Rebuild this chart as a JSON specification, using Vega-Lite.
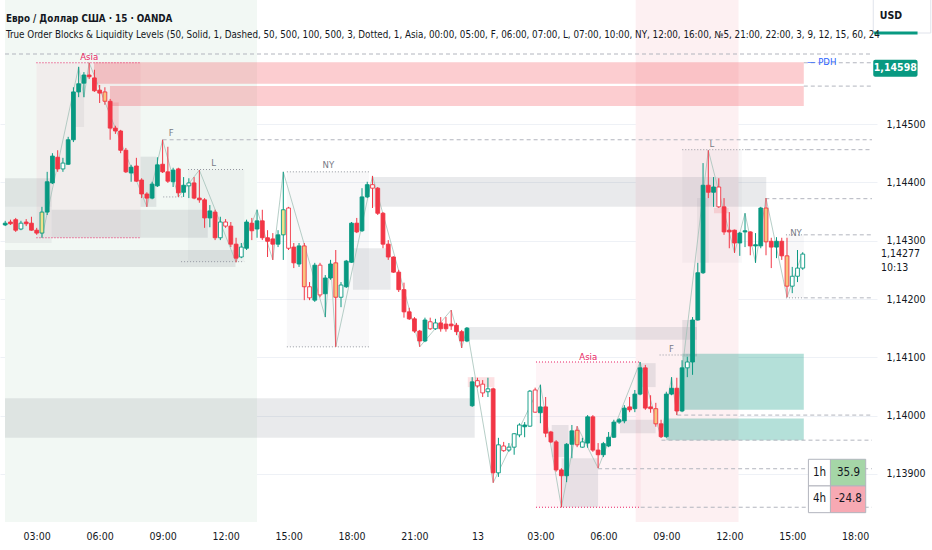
{
"$schema": "https://vega.github.io/schema/vega-lite/v6.json",
"width": 877,
"height": 522,
"autosize": {"type": "none"},
"padding": {"left": 0, "top": 0, "right": 55, "bottom": 28},
"background": "#ffffff",
"config": {
  "view": {"stroke": null},
  "text": {"font": "Liberation Sans Narrow, DejaVu Sans Condensed, sans-serif"}
},
"title": {
  "text": "Евро / Доллар США · 15 · OANDA",
  "subtitle": "True Order Blocks & Liquidity Levels (50, Solid, 1, Dashed, 50, 500, 100, 500, 3, Dotted, 1, Asia, 00:00, 05:00, F, 06:00, 07:00, L, 07:00, 10:00, NY, 12:00, 16:00, №5, 21:00, 22:00, 3, 9, 12, 15, 60, 24",
  "anchor": "start",
  "frame": "group",
  "orient": "top",
  "offset": -56,
  "dx": 6,
  "font": "Liberation Sans Narrow, DejaVu Sans Condensed, sans-serif",
  "fontSize": 9.8,
  "fontWeight": 600,
  "color": "#131722",
  "subtitleFont": "Liberation Sans Narrow, DejaVu Sans Condensed, sans-serif",
  "subtitleFontSize": 9.75,
  "subtitleColor": "#131722",
  "subtitlePadding": 6
},
"datasets": {
  "bg": [
    {"t": 1.49, "t2": 13.5, "k": "g"},
    {"t": 31.54, "t2": 36.44, "k": "p"}
  ],
  "zones": [
    {"t": 2.99, "t2": 7.95, "p": 1.14605, "p2": 1.14305, "k": "asia"},
    {"t": 26.79, "t2": 31.78, "p": 1.14092, "p2": 1.13843, "k": "asia"},
    {"t": 14.92, "t2": 18.83, "p": 1.14418, "p2": 1.14118, "k": "ny"},
    {"t": 10.21, "t2": 12.89, "p": 1.14422, "p2": 1.14264, "k": "ny"},
    {"t": 33.76, "t2": 36.6, "p": 1.14456, "p2": 1.14262, "k": "ny"},
    {"t": 38.7, "t2": 39.55, "p": 1.1431, "p2": 1.14202, "k": "ny"},
    {"t": 1.49, "t2": 3.71, "p": 1.14407, "p2": 1.14358, "k": "grey"},
    {"t": 1.49, "t2": 3.71, "p": 1.14358, "p2": 1.14296, "k": "grey2"},
    {"t": 3.71, "t2": 11.15, "p": 1.14353, "p2": 1.14305, "k": "grey"},
    {"t": 1.49, "t2": 12.47, "p": 1.14284, "p2": 1.14255, "k": "grey"},
    {"t": 19.02, "t2": 37.76, "p": 1.14409, "p2": 1.14358, "k": "grey"},
    {"t": 18.07, "t2": 19.86, "p": 1.14287, "p2": 1.14216, "k": "grey"},
    {"t": 23.44, "t2": 34.46, "p": 1.14152, "p2": 1.1413, "k": "grey"},
    {"t": 1.49, "t2": 23.87, "p": 1.1403, "p2": 1.13962, "k": "grey"},
    {"t": 27.54, "t2": 28.34, "p": 1.13984, "p2": 1.13929, "k": "grey"},
    {"t": 28.01, "t2": 29.75, "p": 1.13927, "p2": 1.13843, "k": "grey"},
    {"t": 30.79, "t2": 32.49, "p": 1.13993, "p2": 1.1397, "k": "grey"},
    {"t": 31.78, "t2": 32.49, "p": 1.1409, "p2": 1.14049, "k": "grey"},
    {"t": 33.76, "t2": 34.46, "p": 1.14164, "p2": 1.14101, "k": "grey"},
    {"t": 34.46, "t2": 35.02, "p": 1.14373, "p2": 1.14262, "k": "grey2"},
    {"t": 7.95, "t2": 8.7, "p": 1.14444, "p2": 1.14358, "k": "grey"},
    {"t": 4.7, "t2": 5.26, "p": 1.14555, "p2": 1.14495, "k": "grey2"},
    {"t": 33.76, "t2": 39.55, "p": 1.14106, "p2": 1.1401, "k": "teal"},
    {"t": 33.0, "t2": 39.55, "p": 1.13995, "p2": 1.13958, "k": "teal"},
    {"t": 5.73, "t2": 39.55, "p": 1.14606, "p2": 1.14569, "k": "pink"},
    {"t": 6.49, "t2": 39.55, "p": 1.14565, "p2": 1.14531, "k": "pink"},
    {"t": 23.54, "t2": 24.81, "p": 1.14066, "p2": 1.14049, "k": "pink2"},
    {"t": 6.53, "t2": 6.91, "p": 1.14537, "p2": 1.1449, "k": "pink2"},
    {"t": 35.27, "t2": 35.97, "p": 1.14356, "p2": 1.14347, "k": "pink2"}
  ],
  "levels": [
    {"t": 1.49, "t2": 42.8, "p": 1.1462, "k": "dash"},
    {"t": 39.55, "t2": 42.8, "p": 1.14605, "k": "dash"},
    {"t": 39.55, "t2": 42.8, "p": 1.14565, "k": "dash"},
    {"t": 9.0, "t2": 42.8, "p": 1.14473, "k": "dash"},
    {"t": 33.76, "t2": 36.82, "p": 1.14456, "k": "dot"},
    {"t": 36.82, "t2": 42.8, "p": 1.14456, "k": "dash"},
    {"t": 37.72, "t2": 42.8, "p": 1.14372, "k": "dash"},
    {"t": 38.7, "t2": 39.55, "p": 1.1431, "k": "dot"},
    {"t": 39.55, "t2": 42.8, "p": 1.1431, "k": "dash"},
    {"t": 38.7, "t2": 39.55, "p": 1.14202, "k": "dot"},
    {"t": 39.55, "t2": 42.8, "p": 1.14202, "k": "dash"},
    {"t": 33.52, "t2": 42.8, "p": 1.14001, "k": "dash"},
    {"t": 32.77, "t2": 42.8, "p": 1.13958, "k": "dash"},
    {"t": 29.75, "t2": 42.8, "p": 1.13909, "k": "dash"},
    {"t": 26.79, "t2": 31.78, "p": 1.13843, "k": "pdot"},
    {"t": 31.78, "t2": 42.8, "p": 1.13843, "k": "dash"},
    {"t": 26.79, "t2": 31.78, "p": 1.14092, "k": "pdot"},
    {"t": 10.21, "t2": 12.89, "p": 1.14422, "k": "dot"},
    {"t": 9.88, "t2": 12.89, "p": 1.14264, "k": "dot"},
    {"t": 14.92, "t2": 18.83, "p": 1.14418, "k": "dot"},
    {"t": 14.92, "t2": 18.83, "p": 1.14118, "k": "dot"},
    {"t": 2.99, "t2": 7.95, "p": 1.14605, "k": "pdot"},
    {"t": 2.99, "t2": 7.95, "p": 1.14305, "k": "pdot"},
    {"t": 32.68, "t2": 34.46, "p": 1.14104, "k": "dot"},
    {"t": 9.03, "t2": 9.97, "p": 1.14375, "k": "dot"}
  ],
  "zig": [
    {"t": 3.25, "p": 1.14305}, {"t": 5, "p": 1.14598}, {"t": 5.25, "p": 1.14546}, {"t": 5.5, "p": 1.14605},
    {"t": 8.25, "p": 1.14358}, {"t": 9, "p": 1.14473}, {"t": 9.75, "p": 1.14375}, {"t": 10.75, "p": 1.14421},
    {"t": 12.5, "p": 1.14263}, {"t": 13.5, "p": 1.14353}, {"t": 14.25, "p": 1.14267}, {"t": 14.75, "p": 1.14418},
    {"t": 16.75, "p": 1.14169}, {"t": 17, "p": 1.14267}, {"t": 17.25, "p": 1.14118}, {"t": 19, "p": 1.14411},
    {"t": 21.25, "p": 1.14118}, {"t": 22.75, "p": 1.14181}, {"t": 23.25, "p": 1.14116}, {"t": 23.5, "p": 1.1415},
    {"t": 24.75, "p": 1.13885}, {"t": 27, "p": 1.14053}, {"t": 28, "p": 1.13843}, {"t": 28.75, "p": 1.13982},
    {"t": 29.75, "p": 1.1391}, {"t": 31.75, "p": 1.14092}, {"t": 32.75, "p": 1.13962}, {"t": 33.25, "p": 1.14066},
    {"t": 33.5, "p": 1.14001}, {"t": 35, "p": 1.14455}, {"t": 36.25, "p": 1.14279}, {"t": 36.75, "p": 1.14347},
    {"t": 37.25, "p": 1.14262}, {"t": 37.75, "p": 1.14373}, {"t": 38.75, "p": 1.14203}, {"t": 39.5, "p": 1.1428}
  ],
  "candles": [
    {"t":1.5,"o":1.14327,"hi":1.14334,"lo":1.14325,"c":1.14330,"s":"g"},
    {"t":1.75,"o":1.14332,"hi":1.14336,"lo":1.14327,"c":1.14329,"s":"r"},
    {"t":2,"o":1.14336,"hi":1.14339,"lo":1.14315,"c":1.14318,"s":"r"},
    {"t":2.25,"o":1.14320,"hi":1.14334,"lo":1.14318,"c":1.14330,"s":"gh"},
    {"t":2.5,"o":1.14332,"hi":1.14337,"lo":1.14325,"c":1.14329,"s":"r"},
    {"t":2.75,"o":1.14330,"hi":1.14341,"lo":1.14317,"c":1.14318,"s":"r"},
    {"t":3,"o":1.14318,"hi":1.14322,"lo":1.14310,"c":1.14313,"s":"r"},
    {"t":3.25,"o":1.14313,"hi":1.14358,"lo":1.14305,"c":1.14349,"s":"gy"},
    {"t":3.5,"o":1.14349,"hi":1.14418,"lo":1.14344,"c":1.14401,"s":"g"},
    {"t":3.75,"o":1.14399,"hi":1.14450,"lo":1.14397,"c":1.14445,"s":"g"},
    {"t":4,"o":1.14443,"hi":1.14455,"lo":1.14418,"c":1.14423,"s":"r"},
    {"t":4.25,"o":1.14423,"hi":1.14442,"lo":1.14418,"c":1.14433,"s":"gh"},
    {"t":4.5,"o":1.14431,"hi":1.14478,"lo":1.14430,"c":1.14473,"s":"g"},
    {"t":4.75,"o":1.14473,"hi":1.14563,"lo":1.14469,"c":1.14555,"s":"g"},
    {"t":5,"o":1.14555,"hi":1.14598,"lo":1.14546,"c":1.14569,"s":"g"},
    {"t":5.25,"o":1.14570,"hi":1.14589,"lo":1.14546,"c":1.14584,"s":"g"},
    {"t":5.5,"o":1.14584,"hi":1.14605,"lo":1.14577,"c":1.14581,"s":"r"},
    {"t":5.75,"o":1.14579,"hi":1.14593,"lo":1.14555,"c":1.14557,"s":"r"},
    {"t":6,"o":1.14558,"hi":1.14567,"lo":1.14536,"c":1.14553,"s":"r"},
    {"t":6.25,"o":1.14555,"hi":1.14563,"lo":1.14533,"c":1.14539,"s":"ry"},
    {"t":6.5,"o":1.14539,"hi":1.14543,"lo":1.14473,"c":1.14493,"s":"r"},
    {"t":6.75,"o":1.14493,"hi":1.14497,"lo":1.14483,"c":1.14488,"s":"r"},
    {"t":7,"o":1.14488,"hi":1.14490,"lo":1.14450,"c":1.14455,"s":"r"},
    {"t":7.25,"o":1.14455,"hi":1.14459,"lo":1.14416,"c":1.14418,"s":"r"},
    {"t":7.5,"o":1.14416,"hi":1.14430,"lo":1.14401,"c":1.14426,"s":"g"},
    {"t":7.75,"o":1.14428,"hi":1.14442,"lo":1.14401,"c":1.14402,"s":"r"},
    {"t":8,"o":1.14404,"hi":1.14407,"lo":1.14373,"c":1.14380,"s":"r"},
    {"t":8.25,"o":1.14380,"hi":1.14383,"lo":1.14358,"c":1.14373,"s":"r"},
    {"t":8.5,"o":1.14373,"hi":1.14401,"lo":1.14371,"c":1.14397,"s":"g"},
    {"t":8.75,"o":1.14394,"hi":1.14443,"lo":1.14392,"c":1.14430,"s":"g"},
    {"t":9,"o":1.14431,"hi":1.14473,"lo":1.14416,"c":1.14418,"s":"r"},
    {"t":9.25,"o":1.14418,"hi":1.14461,"lo":1.14399,"c":1.14402,"s":"r"},
    {"t":9.5,"o":1.14401,"hi":1.14425,"lo":1.14392,"c":1.14421,"s":"g"},
    {"t":9.75,"o":1.14423,"hi":1.14425,"lo":1.14375,"c":1.14382,"s":"r"},
    {"t":10,"o":1.14383,"hi":1.14409,"lo":1.14375,"c":1.14395,"s":"g"},
    {"t":10.25,"o":1.14394,"hi":1.14407,"lo":1.14373,"c":1.14399,"s":"gh"},
    {"t":10.5,"o":1.14399,"hi":1.14409,"lo":1.14371,"c":1.14373,"s":"r"},
    {"t":10.75,"o":1.14373,"hi":1.14421,"lo":1.14365,"c":1.14370,"s":"r"},
    {"t":11,"o":1.14370,"hi":1.14373,"lo":1.14322,"c":1.14339,"s":"r"},
    {"t":11.25,"o":1.14339,"hi":1.14361,"lo":1.14323,"c":1.14351,"s":"g"},
    {"t":11.5,"o":1.14349,"hi":1.14353,"lo":1.14301,"c":1.14305,"s":"r"},
    {"t":11.75,"o":1.14305,"hi":1.14341,"lo":1.14301,"c":1.14332,"s":"gh"},
    {"t":12,"o":1.14325,"hi":1.14337,"lo":1.14322,"c":1.14332,"s":"rh"},
    {"t":12.25,"o":1.14325,"hi":1.14332,"lo":1.14289,"c":1.14294,"s":"r"},
    {"t":12.5,"o":1.14294,"hi":1.14305,"lo":1.14263,"c":1.14270,"s":"r"},
    {"t":12.75,"o":1.14272,"hi":1.14296,"lo":1.14270,"c":1.14289,"s":"gh"},
    {"t":13,"o":1.14287,"hi":1.14336,"lo":1.14284,"c":1.14332,"s":"g"},
    {"t":13.25,"o":1.14330,"hi":1.14339,"lo":1.14301,"c":1.14317,"s":"r"},
    {"t":13.5,"o":1.14320,"hi":1.14353,"lo":1.14305,"c":1.14334,"s":"g"},
    {"t":13.75,"o":1.14334,"hi":1.14353,"lo":1.14301,"c":1.14305,"s":"r"},
    {"t":14,"o":1.14305,"hi":1.14318,"lo":1.14272,"c":1.14299,"s":"r"},
    {"t":14.25,"o":1.14303,"hi":1.14313,"lo":1.14267,"c":1.14294,"s":"r"},
    {"t":14.5,"o":1.14294,"hi":1.14318,"lo":1.14289,"c":1.14310,"s":"g"},
    {"t":14.75,"o":1.14310,"hi":1.14418,"lo":1.14267,"c":1.14353,"s":"gy"},
    {"t":15,"o":1.14287,"hi":1.14358,"lo":1.14284,"c":1.14356,"s":"rh"},
    {"t":15.25,"o":1.14289,"hi":1.14296,"lo":1.14253,"c":1.14262,"s":"r"},
    {"t":15.5,"o":1.14260,"hi":1.14296,"lo":1.14255,"c":1.14291,"s":"g"},
    {"t":15.75,"o":1.14291,"hi":1.14296,"lo":1.14198,"c":1.14221,"s":"ry"},
    {"t":16,"o":1.14202,"hi":1.14229,"lo":1.14198,"c":1.14221,"s":"rh"},
    {"t":16.25,"o":1.14198,"hi":1.14262,"lo":1.14195,"c":1.14258,"s":"g"},
    {"t":16.5,"o":1.14207,"hi":1.14262,"lo":1.14203,"c":1.14258,"s":"rh"},
    {"t":16.75,"o":1.14209,"hi":1.14241,"lo":1.14169,"c":1.14236,"s":"g"},
    {"t":17,"o":1.14236,"hi":1.14267,"lo":1.14233,"c":1.14260,"s":"g"},
    {"t":17.25,"o":1.14262,"hi":1.14284,"lo":1.14118,"c":1.14203,"s":"ry"},
    {"t":17.5,"o":1.14203,"hi":1.14229,"lo":1.14186,"c":1.14224,"s":"gh"},
    {"t":17.75,"o":1.14221,"hi":1.14267,"lo":1.14219,"c":1.14265,"s":"g"},
    {"t":18,"o":1.14263,"hi":1.14332,"lo":1.14262,"c":1.14330,"s":"g"},
    {"t":18.25,"o":1.14330,"hi":1.14339,"lo":1.14313,"c":1.14315,"s":"r"},
    {"t":18.5,"o":1.14317,"hi":1.14390,"lo":1.14315,"c":1.14375,"s":"g"},
    {"t":18.75,"o":1.14375,"hi":1.14401,"lo":1.14373,"c":1.14396,"s":"g"},
    {"t":19,"o":1.14390,"hi":1.14411,"lo":1.14356,"c":1.14396,"s":"rh"},
    {"t":19.25,"o":1.14390,"hi":1.14392,"lo":1.14344,"c":1.14347,"s":"r"},
    {"t":19.5,"o":1.14347,"hi":1.14349,"lo":1.14287,"c":1.14294,"s":"r"},
    {"t":19.75,"o":1.14294,"hi":1.14301,"lo":1.14267,"c":1.14272,"s":"r"},
    {"t":20,"o":1.14272,"hi":1.14273,"lo":1.14245,"c":1.14246,"s":"r"},
    {"t":20.25,"o":1.14246,"hi":1.14250,"lo":1.14212,"c":1.14216,"s":"r"},
    {"t":20.5,"o":1.14216,"hi":1.14228,"lo":1.14168,"c":1.14178,"s":"r"},
    {"t":20.75,"o":1.14178,"hi":1.14185,"lo":1.14164,"c":1.14166,"s":"r"},
    {"t":21,"o":1.14166,"hi":1.14169,"lo":1.14142,"c":1.14145,"s":"r"},
    {"t":21.25,"o":1.14145,"hi":1.14147,"lo":1.14118,"c":1.14128,"s":"r"},
    {"t":21.5,"o":1.14128,"hi":1.14168,"lo":1.14126,"c":1.14164,"s":"g"},
    {"t":21.75,"o":1.14149,"hi":1.14168,"lo":1.14147,"c":1.14161,"s":"rh"},
    {"t":22,"o":1.14149,"hi":1.14166,"lo":1.14147,"c":1.14159,"s":"gh"},
    {"t":22.25,"o":1.14159,"hi":1.14169,"lo":1.14144,"c":1.14149,"s":"r"},
    {"t":22.5,"o":1.14157,"hi":1.14169,"lo":1.14144,"c":1.14149,"s":"r"},
    {"t":22.75,"o":1.14157,"hi":1.14181,"lo":1.14147,"c":1.14154,"s":"r"},
    {"t":23,"o":1.14155,"hi":1.14159,"lo":1.14138,"c":1.14144,"s":"r"},
    {"t":23.25,"o":1.14144,"hi":1.14147,"lo":1.14116,"c":1.14128,"s":"r"},
    {"t":23.5,"o":1.14128,"hi":1.14152,"lo":1.14126,"c":1.14150,"s":"g"},
    {"t":23.75,"o":1.14017,"hi":1.14066,"lo":1.14015,"c":1.14058,"s":"g"},
    {"t":24,"o":1.14051,"hi":1.14065,"lo":1.14048,"c":1.14060,"s":"rh"},
    {"t":24.25,"o":1.14039,"hi":1.14061,"lo":1.14032,"c":1.14054,"s":"rh"},
    {"t":24.5,"o":1.14041,"hi":1.14065,"lo":1.14032,"c":1.14046,"s":"gh"},
    {"t":24.75,"o":1.14046,"hi":1.14048,"lo":1.13885,"c":1.13902,"s":"r"},
    {"t":25,"o":1.13902,"hi":1.13962,"lo":1.13895,"c":1.13950,"s":"gh"},
    {"t":25.25,"o":1.13940,"hi":1.13955,"lo":1.13938,"c":1.13948,"s":"rh"},
    {"t":25.5,"o":1.13941,"hi":1.13953,"lo":1.13938,"c":1.13946,"s":"gh"},
    {"t":25.75,"o":1.13946,"hi":1.13970,"lo":1.13933,"c":1.13969,"s":"gh"},
    {"t":26,"o":1.13967,"hi":1.13987,"lo":1.13963,"c":1.13984,"s":"gh"},
    {"t":26.25,"o":1.13981,"hi":1.13989,"lo":1.13963,"c":1.13984,"s":"g"},
    {"t":26.5,"o":1.13982,"hi":1.14044,"lo":1.13981,"c":1.14042,"s":"gh"},
    {"t":26.75,"o":1.14006,"hi":1.14048,"lo":1.14005,"c":1.14044,"s":"rh"},
    {"t":27,"o":1.14005,"hi":1.14053,"lo":1.13987,"c":1.14015,"s":"g"},
    {"t":27.25,"o":1.14015,"hi":1.14032,"lo":1.13963,"c":1.13970,"s":"r"},
    {"t":27.5,"o":1.13972,"hi":1.13974,"lo":1.13953,"c":1.13955,"s":"r"},
    {"t":27.75,"o":1.13955,"hi":1.13958,"lo":1.13904,"c":1.13907,"s":"r"},
    {"t":28,"o":1.13907,"hi":1.13910,"lo":1.13843,"c":1.13897,"s":"r"},
    {"t":28.25,"o":1.13897,"hi":1.13953,"lo":1.13886,"c":1.13951,"s":"g"},
    {"t":28.5,"o":1.13951,"hi":1.13984,"lo":1.13927,"c":1.13974,"s":"g"},
    {"t":28.75,"o":1.13975,"hi":1.13982,"lo":1.13946,"c":1.13950,"s":"ry"},
    {"t":29,"o":1.13946,"hi":1.13962,"lo":1.13945,"c":1.13955,"s":"gh"},
    {"t":29.25,"o":1.13953,"hi":1.14001,"lo":1.13945,"c":1.13998,"s":"g"},
    {"t":29.5,"o":1.13998,"hi":1.14001,"lo":1.13938,"c":1.13941,"s":"r"},
    {"t":29.75,"o":1.13941,"hi":1.13953,"lo":1.13910,"c":1.13933,"s":"r"},
    {"t":30,"o":1.13933,"hi":1.13955,"lo":1.13929,"c":1.13952,"s":"g"},
    {"t":30.25,"o":1.13948,"hi":1.13972,"lo":1.13946,"c":1.13963,"s":"g"},
    {"t":30.5,"o":1.13963,"hi":1.13993,"lo":1.13962,"c":1.13989,"s":"g"},
    {"t":30.75,"o":1.13989,"hi":1.13996,"lo":1.13986,"c":1.13993,"s":"g"},
    {"t":31,"o":1.13991,"hi":1.14018,"lo":1.13987,"c":1.14013,"s":"g"},
    {"t":31.25,"o":1.14015,"hi":1.14032,"lo":1.14006,"c":1.14010,"s":"r"},
    {"t":31.5,"o":1.14012,"hi":1.14044,"lo":1.14006,"c":1.14037,"s":"g"},
    {"t":31.75,"o":1.14037,"hi":1.14092,"lo":1.14035,"c":1.14082,"s":"g"},
    {"t":32,"o":1.14082,"hi":1.14087,"lo":1.14010,"c":1.14013,"s":"r"},
    {"t":32.25,"o":1.14015,"hi":1.14035,"lo":1.14005,"c":1.14012,"s":"r"},
    {"t":32.5,"o":1.14012,"hi":1.14022,"lo":1.13981,"c":1.13986,"s":"ry"},
    {"t":32.75,"o":1.13986,"hi":1.13993,"lo":1.13962,"c":1.13964,"s":"r"},
    {"t":33,"o":1.13964,"hi":1.14041,"lo":1.13962,"c":1.14037,"s":"g"},
    {"t":33.25,"o":1.14037,"hi":1.14066,"lo":1.14035,"c":1.14047,"s":"g"},
    {"t":33.5,"o":1.14047,"hi":1.14065,"lo":1.14001,"c":1.14008,"s":"r"},
    {"t":33.75,"o":1.14008,"hi":1.14095,"lo":1.14006,"c":1.14082,"s":"g"},
    {"t":34,"o":1.14082,"hi":1.14101,"lo":1.14066,"c":1.14092,"s":"gh"},
    {"t":34.25,"o":1.14092,"hi":1.14169,"lo":1.14070,"c":1.14164,"s":"g"},
    {"t":34.5,"o":1.14164,"hi":1.14262,"lo":1.14163,"c":1.14245,"s":"g"},
    {"t":34.75,"o":1.14245,"hi":1.14433,"lo":1.14243,"c":1.14395,"s":"g"},
    {"t":35,"o":1.14395,"hi":1.14455,"lo":1.14373,"c":1.14383,"s":"r"},
    {"t":35.25,"o":1.14383,"hi":1.14409,"lo":1.14358,"c":1.14392,"s":"g"},
    {"t":35.5,"o":1.14358,"hi":1.14407,"lo":1.14356,"c":1.14392,"s":"rh"},
    {"t":35.75,"o":1.14358,"hi":1.14373,"lo":1.14310,"c":1.14315,"s":"r"},
    {"t":36,"o":1.14318,"hi":1.14349,"lo":1.14287,"c":1.14315,"s":"r"},
    {"t":36.25,"o":1.14318,"hi":1.14319,"lo":1.14279,"c":1.14296,"s":"r"},
    {"t":36.5,"o":1.14296,"hi":1.14315,"lo":1.14274,"c":1.14313,"s":"g"},
    {"t":36.75,"o":1.14315,"hi":1.14347,"lo":1.14289,"c":1.14317,"s":"g"},
    {"t":37,"o":1.14315,"hi":1.14316,"lo":1.14275,"c":1.14291,"s":"r"},
    {"t":37.25,"o":1.14291,"hi":1.14313,"lo":1.14262,"c":1.14293,"s":"g"},
    {"t":37.5,"o":1.14291,"hi":1.14358,"lo":1.14287,"c":1.14356,"s":"g"},
    {"t":37.75,"o":1.14356,"hi":1.14373,"lo":1.14275,"c":1.14298,"s":"ry"},
    {"t":38,"o":1.14299,"hi":1.14305,"lo":1.14253,"c":1.14289,"s":"r"},
    {"t":38.25,"o":1.14289,"hi":1.14306,"lo":1.14270,"c":1.14299,"s":"g"},
    {"t":38.5,"o":1.14299,"hi":1.14305,"lo":1.14267,"c":1.14274,"s":"r"},
    {"t":38.75,"o":1.14274,"hi":1.14305,"lo":1.14203,"c":1.14222,"s":"ry"},
    {"t":39,"o":1.14222,"hi":1.14255,"lo":1.14210,"c":1.14239,"s":"gh"},
    {"t":39.25,"o":1.14239,"hi":1.14284,"lo":1.14229,"c":1.14253,"s":"gh"},
    {"t":39.5,"o":1.14253,"hi":1.14280,"lo":1.14250,"c":1.14277,"s":"gh"}
  ],
  "labels": [
    {"t": 5.5, "p": 1.14615, "txt": "Asia", "k": "asia"},
    {"t": 9.41, "p": 1.14485, "txt": "F", "k": "grey"},
    {"t": 11.43, "p": 1.14433, "txt": "L", "k": "grey"},
    {"t": 16.9, "p": 1.1443, "txt": "NY", "k": "grey"},
    {"t": 29.28, "p": 1.14101, "txt": "Asia", "k": "asia"},
    {"t": 33.24, "p": 1.14114, "txt": "F", "k": "grey"},
    {"t": 35.17, "p": 1.14466, "txt": "L", "k": "grey"},
    {"t": 39.18, "p": 1.14313, "txt": "NY", "k": "grey"},
    {"t": 40.4, "p": 1.14606, "txt": "— PDH", "k": "pdh"}
  ],
  "table": [
    {"t": 39.77, "t2": 40.82, "p": 1.139252, "p2": 1.138795, "k": "w"},
    {"t": 40.82, "t2": 42.5, "p": 1.139252, "p2": 1.138795, "k": "up"},
    {"t": 39.77, "t2": 40.82, "p": 1.138795, "p2": 1.138337, "k": "w"},
    {"t": 40.82, "t2": 42.5, "p": 1.138795, "p2": 1.138337, "k": "dn"}
  ],
  "tabletext": [
    {"t": 40.3, "p": 1.139024, "txt": "1h"},
    {"t": 41.68, "p": 1.139024, "txt": "35.9"},
    {"t": 40.3, "p": 1.138566, "txt": "4h"},
    {"t": 41.68, "p": 1.138566, "txt": "-24.8"}
  ]
},
"layer": [
  {
    "data": {"name": "bg"},
    "mark": {"type": "rect"},
    "encoding": {
      "x": {"field": "t", "type": "quantitative", "scale": {"domain": [1.49, 42.8], "nice": false, "zero": false},
        "axis": {"orient": "bottom", "values": [3,6,9,12,15,18,21,24,27,30,33,36,39,42], "labelExpr": "datum.value == 24 ? '13' : ((datum.value % 24) < 10 ? '0' : '') + (datum.value % 24) + ':00'", "title": null, "domain": false, "ticks": false, "grid": false, "labelPadding": 9, "labelFontSize": 10.5, "labelColor": "#131722", "labelFont": "Liberation Sans Narrow, DejaVu Sans Condensed, sans-serif", "labelFlush": false}},
      "x2": {"field": "t2"},
      "fill": {"field": "k", "type": "nominal", "scale": {"domain": ["g", "p"], "range": ["#f2f8f4", "#fdf0f2"]}, "legend": null}
    }
  },
  {
    "data": {"name": "zones"},
    "mark": {"type": "rect"},
    "encoding": {
      "x": {"field": "t", "type": "quantitative", "scale": {"domain": [1.49, 42.8], "nice": false, "zero": false},
        "axis": {"orient": "bottom", "values": [3,6,9,12,15,18,21,24,27,30,33,36,39,42], "labelExpr": "datum.value == 24 ? '13' : ((datum.value % 24) < 10 ? '0' : '') + (datum.value % 24) + ':00'", "title": null, "domain": false, "ticks": false, "grid": false, "labelPadding": 9, "labelFontSize": 10.5, "labelColor": "#131722", "labelFont": "Liberation Sans Narrow, DejaVu Sans Condensed, sans-serif", "labelFlush": false}},
      "x2": {"field": "t2"},
      "y": {"field": "p", "type": "quantitative", "scale": {"domain": [1.138177, 1.147126], "nice": false, "zero": false},
        "axis": {"orient": "right", "values": [1.139, 1.14, 1.141, 1.142, 1.143, 1.144, 1.145], "format": ".5f", "labelExpr": "replace(datum.label, '.', ',')", "title": null, "domain": false, "ticks": false, "grid": true, "gridColor": "#eef1f6", "labelPadding": 9, "labelFontSize": 10.5, "labelColor": "#131722", "labelFont": "Liberation Sans Narrow, DejaVu Sans Condensed, sans-serif"}},
      "y2": {"field": "p2"},
      "fill": {"field": "k", "type": "nominal",
        "scale": {"domain": ["asia", "ny", "grey", "grey2", "teal", "pink", "pink2"],
          "range": ["rgba(233,30,99,0.05)", "rgba(120,123,134,0.05)", "rgba(120,123,134,0.16)", "rgba(120,123,134,0.09)", "rgba(8,153,129,0.3)", "rgba(242,54,69,0.25)", "rgba(242,54,69,0.15)"]},
        "legend": null}
    }
  },
  {
    "data": {"name": "levels"},
    "mark": {"type": "rule", "strokeWidth": 1},
    "encoding": {
      "x": {"field": "t", "type": "quantitative", "scale": {"domain": [1.49, 42.8], "nice": false, "zero": false},
        "axis": {"orient": "bottom", "values": [3,6,9,12,15,18,21,24,27,30,33,36,39,42], "labelExpr": "datum.value == 24 ? '13' : ((datum.value % 24) < 10 ? '0' : '') + (datum.value % 24) + ':00'", "title": null, "domain": false, "ticks": false, "grid": false, "labelPadding": 9, "labelFontSize": 10.5, "labelColor": "#131722", "labelFont": "Liberation Sans Narrow, DejaVu Sans Condensed, sans-serif", "labelFlush": false}},
      "x2": {"field": "t2"},
      "y": {"field": "p", "type": "quantitative", "scale": {"domain": [1.138177, 1.147126], "nice": false, "zero": false},
        "axis": {"orient": "right", "values": [1.139, 1.14, 1.141, 1.142, 1.143, 1.144, 1.145], "format": ".5f", "labelExpr": "replace(datum.label, '.', ',')", "title": null, "domain": false, "ticks": false, "grid": true, "gridColor": "#eef1f6", "labelPadding": 9, "labelFontSize": 10.5, "labelColor": "#131722", "labelFont": "Liberation Sans Narrow, DejaVu Sans Condensed, sans-serif"}},
      "color": {"field": "k", "type": "nominal", "scale": {"domain": ["dash", "dot", "pdot"], "range": ["#b2b5be", "#9598a1", "#e91e63"]}, "legend": null},
      "strokeDash": {"field": "k", "type": "nominal", "scale": {"domain": ["dash", "dot", "pdot"], "range": [[4, 3], [1, 2], [1, 2]]}, "legend": null}
    }
  },
  {
    "data": {"name": "zig"},
    "mark": {"type": "line", "strokeWidth": 0.8, "color": "#a3c2b9"},
    "encoding": {
      "x": {"field": "t", "type": "quantitative", "scale": {"domain": [1.49, 42.8], "nice": false, "zero": false},
        "axis": {"orient": "bottom", "values": [3,6,9,12,15,18,21,24,27,30,33,36,39,42], "labelExpr": "datum.value == 24 ? '13' : ((datum.value % 24) < 10 ? '0' : '') + (datum.value % 24) + ':00'", "title": null, "domain": false, "ticks": false, "grid": false, "labelPadding": 9, "labelFontSize": 10.5, "labelColor": "#131722", "labelFont": "Liberation Sans Narrow, DejaVu Sans Condensed, sans-serif", "labelFlush": false}},
      "y": {"field": "p", "type": "quantitative", "scale": {"domain": [1.138177, 1.147126], "nice": false, "zero": false},
        "axis": {"orient": "right", "values": [1.139, 1.14, 1.141, 1.142, 1.143, 1.144, 1.145], "format": ".5f", "labelExpr": "replace(datum.label, '.', ',')", "title": null, "domain": false, "ticks": false, "grid": true, "gridColor": "#eef1f6", "labelPadding": 9, "labelFontSize": 10.5, "labelColor": "#131722", "labelFont": "Liberation Sans Narrow, DejaVu Sans Condensed, sans-serif"}}
    }
  },
  {
    "data": {"name": "candles"},
    "mark": {"type": "rule", "strokeWidth": 1},
    "encoding": {
      "x": {"field": "t", "type": "quantitative", "scale": {"domain": [1.49, 42.8], "nice": false, "zero": false},
        "axis": {"orient": "bottom", "values": [3,6,9,12,15,18,21,24,27,30,33,36,39,42], "labelExpr": "datum.value == 24 ? '13' : ((datum.value % 24) < 10 ? '0' : '') + (datum.value % 24) + ':00'", "title": null, "domain": false, "ticks": false, "grid": false, "labelPadding": 9, "labelFontSize": 10.5, "labelColor": "#131722", "labelFont": "Liberation Sans Narrow, DejaVu Sans Condensed, sans-serif", "labelFlush": false}},
      "y": {"field": "lo", "type": "quantitative", "scale": {"domain": [1.138177, 1.147126], "nice": false, "zero": false},
        "axis": {"orient": "right", "values": [1.139, 1.14, 1.141, 1.142, 1.143, 1.144, 1.145], "format": ".5f", "labelExpr": "replace(datum.label, '.', ',')", "title": null, "domain": false, "ticks": false, "grid": true, "gridColor": "#eef1f6", "labelPadding": 9, "labelFontSize": 10.5, "labelColor": "#131722", "labelFont": "Liberation Sans Narrow, DejaVu Sans Condensed, sans-serif"}},
      "y2": {"field": "hi"},
      "color": {"field": "s", "type": "nominal", "scale": {"domain": ["g", "r", "gh", "rh", "gy", "ry"], "range": ["#089981", "#f23645", "#089981", "#f23645", "#089981", "#f23645"]}, "legend": null}
    }
  },
  {
    "data": {"name": "candles"},
    "mark": {"type": "bar", "size": 3.8, "strokeWidth": 0.9},
    "encoding": {
      "x": {"field": "t", "type": "quantitative", "scale": {"domain": [1.49, 42.8], "nice": false, "zero": false},
        "axis": {"orient": "bottom", "values": [3,6,9,12,15,18,21,24,27,30,33,36,39,42], "labelExpr": "datum.value == 24 ? '13' : ((datum.value % 24) < 10 ? '0' : '') + (datum.value % 24) + ':00'", "title": null, "domain": false, "ticks": false, "grid": false, "labelPadding": 9, "labelFontSize": 10.5, "labelColor": "#131722", "labelFont": "Liberation Sans Narrow, DejaVu Sans Condensed, sans-serif", "labelFlush": false}},
      "y": {"field": "o", "type": "quantitative", "scale": {"domain": [1.138177, 1.147126], "nice": false, "zero": false},
        "axis": {"orient": "right", "values": [1.139, 1.14, 1.141, 1.142, 1.143, 1.144, 1.145], "format": ".5f", "labelExpr": "replace(datum.label, '.', ',')", "title": null, "domain": false, "ticks": false, "grid": true, "gridColor": "#eef1f6", "labelPadding": 9, "labelFontSize": 10.5, "labelColor": "#131722", "labelFont": "Liberation Sans Narrow, DejaVu Sans Condensed, sans-serif"}},
      "y2": {"field": "c"},
      "fill": {"field": "s", "type": "nominal", "scale": {"domain": ["g", "r", "gh", "rh", "gy", "ry"], "range": ["#089981", "#f23645", "#ffffff", "#ffffff", "#f0e18a", "#f8c47e"]}, "legend": null},
      "stroke": {"field": "s", "type": "nominal", "scale": {"domain": ["g", "r", "gh", "rh", "gy", "ry"], "range": ["#089981", "#f23645", "#089981", "#f23645", "#089981", "#f23645"]}, "legend": null}
    }
  },
  {
    "data": {"name": "labels"},
    "mark": {"type": "text", "fontSize": 9.5, "align": "center", "baseline": "middle"},
    "encoding": {
      "x": {"field": "t", "type": "quantitative", "scale": {"domain": [1.49, 42.8], "nice": false, "zero": false},
        "axis": {"orient": "bottom", "values": [3,6,9,12,15,18,21,24,27,30,33,36,39,42], "labelExpr": "datum.value == 24 ? '13' : ((datum.value % 24) < 10 ? '0' : '') + (datum.value % 24) + ':00'", "title": null, "domain": false, "ticks": false, "grid": false, "labelPadding": 9, "labelFontSize": 10.5, "labelColor": "#131722", "labelFont": "Liberation Sans Narrow, DejaVu Sans Condensed, sans-serif", "labelFlush": false}},
      "y": {"field": "p", "type": "quantitative", "scale": {"domain": [1.138177, 1.147126], "nice": false, "zero": false},
        "axis": {"orient": "right", "values": [1.139, 1.14, 1.141, 1.142, 1.143, 1.144, 1.145], "format": ".5f", "labelExpr": "replace(datum.label, '.', ',')", "title": null, "domain": false, "ticks": false, "grid": true, "gridColor": "#eef1f6", "labelPadding": 9, "labelFontSize": 10.5, "labelColor": "#131722", "labelFont": "Liberation Sans Narrow, DejaVu Sans Condensed, sans-serif"}},
      "text": {"field": "txt"},
      "color": {"field": "k", "type": "nominal", "scale": {"domain": ["asia", "grey", "pdh"], "range": ["#e91e63", "#787b86", "#2962ff"]}, "legend": null}
    }
  },
  {
    "data": {"name": "table"},
    "mark": {"type": "rect", "stroke": "#b2b5be", "strokeWidth": 1},
    "encoding": {
      "x": {"field": "t", "type": "quantitative", "scale": {"domain": [1.49, 42.8], "nice": false, "zero": false},
        "axis": {"orient": "bottom", "values": [3,6,9,12,15,18,21,24,27,30,33,36,39,42], "labelExpr": "datum.value == 24 ? '13' : ((datum.value % 24) < 10 ? '0' : '') + (datum.value % 24) + ':00'", "title": null, "domain": false, "ticks": false, "grid": false, "labelPadding": 9, "labelFontSize": 10.5, "labelColor": "#131722", "labelFont": "Liberation Sans Narrow, DejaVu Sans Condensed, sans-serif", "labelFlush": false}},
      "x2": {"field": "t2"},
      "y": {"field": "p", "type": "quantitative", "scale": {"domain": [1.138177, 1.147126], "nice": false, "zero": false},
        "axis": {"orient": "right", "values": [1.139, 1.14, 1.141, 1.142, 1.143, 1.144, 1.145], "format": ".5f", "labelExpr": "replace(datum.label, '.', ',')", "title": null, "domain": false, "ticks": false, "grid": true, "gridColor": "#eef1f6", "labelPadding": 9, "labelFontSize": 10.5, "labelColor": "#131722", "labelFont": "Liberation Sans Narrow, DejaVu Sans Condensed, sans-serif"}},
      "y2": {"field": "p2"},
      "fill": {"field": "k", "type": "nominal", "scale": {"domain": ["w", "up", "dn"], "range": ["#ffffff", "#a5d6a7", "#f7a9b3"]}, "legend": null}
    }
  },
  {
    "data": {"name": "tabletext"},
    "mark": {"type": "text", "fontSize": 11.5, "align": "center", "baseline": "middle", "color": "#131722"},
    "encoding": {
      "x": {"field": "t", "type": "quantitative", "scale": {"domain": [1.49, 42.8], "nice": false, "zero": false},
        "axis": {"orient": "bottom", "values": [3,6,9,12,15,18,21,24,27,30,33,36,39,42], "labelExpr": "datum.value == 24 ? '13' : ((datum.value % 24) < 10 ? '0' : '') + (datum.value % 24) + ':00'", "title": null, "domain": false, "ticks": false, "grid": false, "labelPadding": 9, "labelFontSize": 10.5, "labelColor": "#131722", "labelFont": "Liberation Sans Narrow, DejaVu Sans Condensed, sans-serif", "labelFlush": false}},
      "y": {"field": "p", "type": "quantitative", "scale": {"domain": [1.138177, 1.147126], "nice": false, "zero": false},
        "axis": {"orient": "right", "values": [1.139, 1.14, 1.141, 1.142, 1.143, 1.144, 1.145], "format": ".5f", "labelExpr": "replace(datum.label, '.', ',')", "title": null, "domain": false, "ticks": false, "grid": true, "gridColor": "#eef1f6", "labelPadding": 9, "labelFontSize": 10.5, "labelColor": "#131722", "labelFont": "Liberation Sans Narrow, DejaVu Sans Condensed, sans-serif"}},
      "text": {"field": "txt"}
    }
  },
  {
    "data": {"values": [{"t": 42.86, "t2": 45.6, "p": 1.14656, "p2": 1.1474}]},
    "mark": {"type": "rect", "fill": "#ffffff", "stroke": "#e0e3eb", "strokeWidth": 1},
    "encoding": {
      "x": {"field": "t", "type": "quantitative", "scale": {"domain": [1.49, 42.8], "nice": false, "zero": false},
        "axis": {"orient": "bottom", "values": [3,6,9,12,15,18,21,24,27,30,33,36,39,42], "labelExpr": "datum.value == 24 ? '13' : ((datum.value % 24) < 10 ? '0' : '') + (datum.value % 24) + ':00'", "title": null, "domain": false, "ticks": false, "grid": false, "labelPadding": 9, "labelFontSize": 10.5, "labelColor": "#131722", "labelFont": "Liberation Sans Narrow, DejaVu Sans Condensed, sans-serif", "labelFlush": false}},
      "x2": {"field": "t2"},
      "y": {"field": "p", "type": "quantitative", "scale": {"domain": [1.138177, 1.147126], "nice": false, "zero": false},
        "axis": {"orient": "right", "values": [1.139, 1.14, 1.141, 1.142, 1.143, 1.144, 1.145], "format": ".5f", "labelExpr": "replace(datum.label, '.', ',')", "title": null, "domain": false, "ticks": false, "grid": true, "gridColor": "#eef1f6", "labelPadding": 9, "labelFontSize": 10.5, "labelColor": "#131722", "labelFont": "Liberation Sans Narrow, DejaVu Sans Condensed, sans-serif"}},
      "y2": {"field": "p2"}
    }
  },
  {
    "data": {"values": [{"t": 42.9, "t2": 44.97, "p": 1.14656}]},
    "mark": {"type": "rule", "strokeWidth": 3, "color": "#089981"},
    "encoding": {
      "x": {"field": "t", "type": "quantitative", "scale": {"domain": [1.49, 42.8], "nice": false, "zero": false},
        "axis": {"orient": "bottom", "values": [3,6,9,12,15,18,21,24,27,30,33,36,39,42], "labelExpr": "datum.value == 24 ? '13' : ((datum.value % 24) < 10 ? '0' : '') + (datum.value % 24) + ':00'", "title": null, "domain": false, "ticks": false, "grid": false, "labelPadding": 9, "labelFontSize": 10.5, "labelColor": "#131722", "labelFont": "Liberation Sans Narrow, DejaVu Sans Condensed, sans-serif", "labelFlush": false}},
      "x2": {"field": "t2"},
      "y": {"field": "p", "type": "quantitative", "scale": {"domain": [1.138177, 1.147126], "nice": false, "zero": false},
        "axis": {"orient": "right", "values": [1.139, 1.14, 1.141, 1.142, 1.143, 1.144, 1.145], "format": ".5f", "labelExpr": "replace(datum.label, '.', ',')", "title": null, "domain": false, "ticks": false, "grid": true, "gridColor": "#eef1f6", "labelPadding": 9, "labelFontSize": 10.5, "labelColor": "#131722", "labelFont": "Liberation Sans Narrow, DejaVu Sans Condensed, sans-serif"}}
    }
  },
  {
    "data": {"values": [{"t": 42.86, "t2": 44.97, "p": 1.1461, "p2": 1.14581}]},
    "mark": {"type": "rect", "fill": "#089981", "cornerRadius": 2},
    "encoding": {
      "x": {"field": "t", "type": "quantitative", "scale": {"domain": [1.49, 42.8], "nice": false, "zero": false},
        "axis": {"orient": "bottom", "values": [3,6,9,12,15,18,21,24,27,30,33,36,39,42], "labelExpr": "datum.value == 24 ? '13' : ((datum.value % 24) < 10 ? '0' : '') + (datum.value % 24) + ':00'", "title": null, "domain": false, "ticks": false, "grid": false, "labelPadding": 9, "labelFontSize": 10.5, "labelColor": "#131722", "labelFont": "Liberation Sans Narrow, DejaVu Sans Condensed, sans-serif", "labelFlush": false}},
      "x2": {"field": "t2"},
      "y": {"field": "p", "type": "quantitative", "scale": {"domain": [1.138177, 1.147126], "nice": false, "zero": false},
        "axis": {"orient": "right", "values": [1.139, 1.14, 1.141, 1.142, 1.143, 1.144, 1.145], "format": ".5f", "labelExpr": "replace(datum.label, '.', ',')", "title": null, "domain": false, "ticks": false, "grid": true, "gridColor": "#eef1f6", "labelPadding": 9, "labelFontSize": 10.5, "labelColor": "#131722", "labelFont": "Liberation Sans Narrow, DejaVu Sans Condensed, sans-serif"}},
      "y2": {"field": "p2"}
    }
  },
  {
    "data": {"values": [
      {"t": 43.91, "p": 1.145955, "txt": "1,14598", "k": "w"},
      {"t": 43.7, "p": 1.146852, "txt": "USD", "k": "d"}
    ]},
    "mark": {"type": "text", "fontSize": 10.5, "align": "center", "baseline": "middle", "fontWeight": 600},
    "encoding": {
      "x": {"field": "t", "type": "quantitative", "scale": {"domain": [1.49, 42.8], "nice": false, "zero": false},
        "axis": {"orient": "bottom", "values": [3,6,9,12,15,18,21,24,27,30,33,36,39,42], "labelExpr": "datum.value == 24 ? '13' : ((datum.value % 24) < 10 ? '0' : '') + (datum.value % 24) + ':00'", "title": null, "domain": false, "ticks": false, "grid": false, "labelPadding": 9, "labelFontSize": 10.5, "labelColor": "#131722", "labelFont": "Liberation Sans Narrow, DejaVu Sans Condensed, sans-serif", "labelFlush": false}},
      "y": {"field": "p", "type": "quantitative", "scale": {"domain": [1.138177, 1.147126], "nice": false, "zero": false},
        "axis": {"orient": "right", "values": [1.139, 1.14, 1.141, 1.142, 1.143, 1.144, 1.145], "format": ".5f", "labelExpr": "replace(datum.label, '.', ',')", "title": null, "domain": false, "ticks": false, "grid": true, "gridColor": "#eef1f6", "labelPadding": 9, "labelFontSize": 10.5, "labelColor": "#131722", "labelFont": "Liberation Sans Narrow, DejaVu Sans Condensed, sans-serif"}},
      "text": {"field": "txt"},
      "color": {"field": "k", "type": "nominal", "scale": {"domain": ["w", "d"], "range": ["#ffffff", "#131722"]}, "legend": null}
    }
  },
  {
    "data": {"values": [
      {"t": 43.23, "p": 1.142772, "txt": "1,14277"},
      {"t": 43.23, "p": 1.14253, "txt": "10:13"}
    ]},
    "mark": {"type": "text", "fontSize": 10.5, "align": "left", "baseline": "middle", "color": "#131722"},
    "encoding": {
      "x": {"field": "t", "type": "quantitative", "scale": {"domain": [1.49, 42.8], "nice": false, "zero": false},
        "axis": {"orient": "bottom", "values": [3,6,9,12,15,18,21,24,27,30,33,36,39,42], "labelExpr": "datum.value == 24 ? '13' : ((datum.value % 24) < 10 ? '0' : '') + (datum.value % 24) + ':00'", "title": null, "domain": false, "ticks": false, "grid": false, "labelPadding": 9, "labelFontSize": 10.5, "labelColor": "#131722", "labelFont": "Liberation Sans Narrow, DejaVu Sans Condensed, sans-serif", "labelFlush": false}},
      "y": {"field": "p", "type": "quantitative", "scale": {"domain": [1.138177, 1.147126], "nice": false, "zero": false},
        "axis": {"orient": "right", "values": [1.139, 1.14, 1.141, 1.142, 1.143, 1.144, 1.145], "format": ".5f", "labelExpr": "replace(datum.label, '.', ',')", "title": null, "domain": false, "ticks": false, "grid": true, "gridColor": "#eef1f6", "labelPadding": 9, "labelFontSize": 10.5, "labelColor": "#131722", "labelFont": "Liberation Sans Narrow, DejaVu Sans Condensed, sans-serif"}},
      "text": {"field": "txt"}
    }
  }
],
"resolve": {"scale": {"color": "independent", "fill": "independent", "stroke": "independent", "strokeDash": "independent"}}
}
